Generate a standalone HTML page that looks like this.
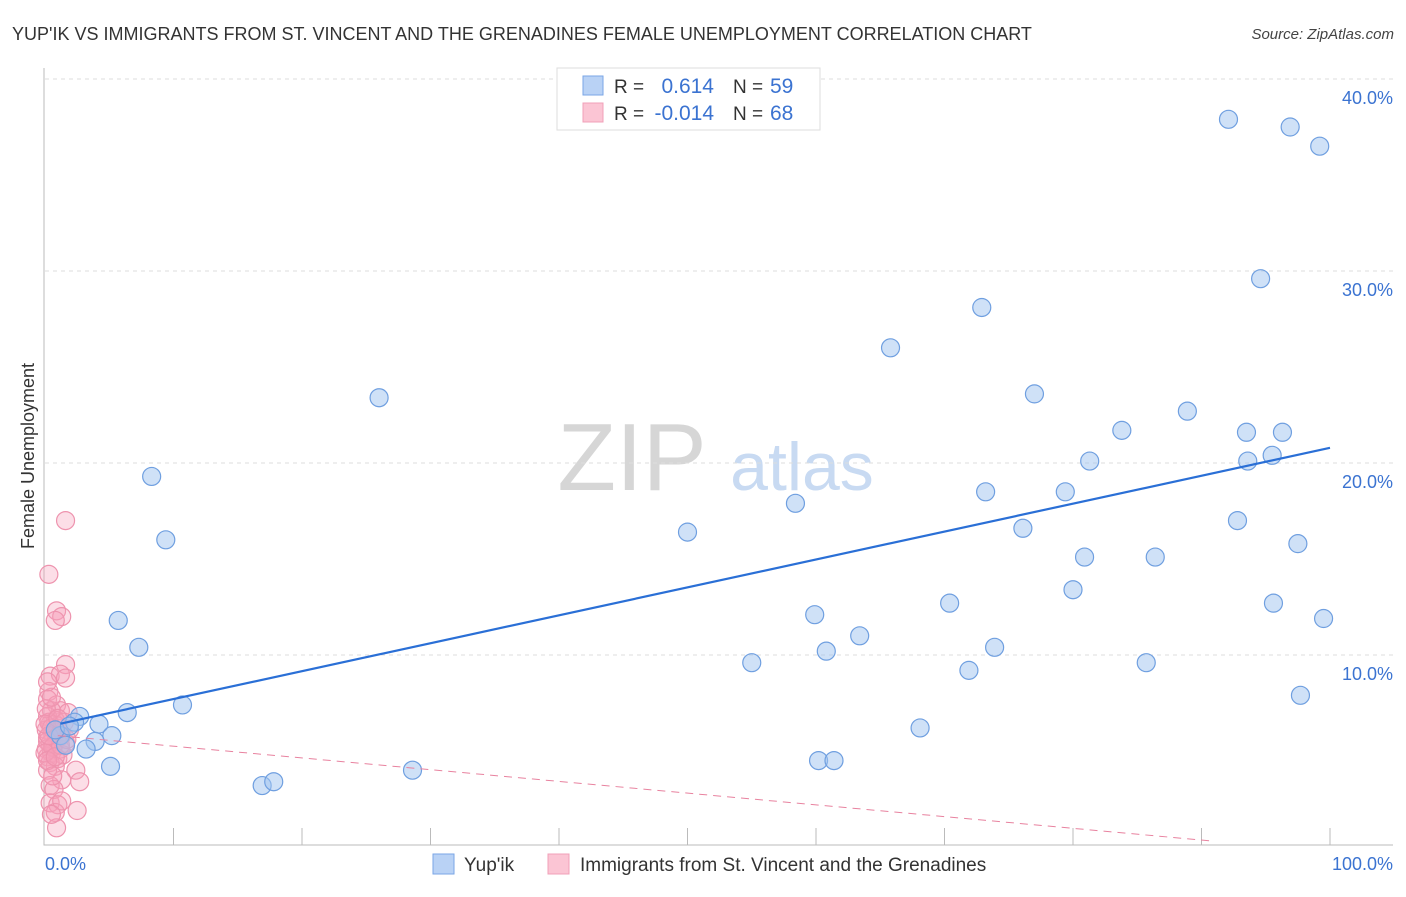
<!DOCTYPE html>
<html><head><meta charset="utf-8"><style>
body{margin:0;background:#fff;font-family:"Liberation Sans",sans-serif;}
svg text{font-family:"Liberation Sans",sans-serif;}
</style></head><body>
<svg id="chart" width="1406" height="892" xmlns="http://www.w3.org/2000/svg">
<text x="12" y="40" font-size="18" fill="#333">YUP'IK VS IMMIGRANTS FROM ST. VINCENT AND THE GRENADINES FEMALE UNEMPLOYMENT CORRELATION CHART</text>
<text x="1394" y="39" font-size="15" fill="#444" font-style="italic" text-anchor="end">Source: ZipAtlas.com</text>
<g>
<text x="632" y="490" font-size="96" fill="#d6d6d6" font-family="Liberation Serif, serif" text-anchor="middle">ZIP</text>
<text x="802" y="490" font-size="68" fill="#c8daf2" text-anchor="middle">atlas</text>
</g>
<g id="grid"></g>
<g id="axes"></g>
<g id="points"></g>
<g id="trends"></g>
<text transform="translate(34,456) rotate(-90)" font-size="18" fill="#333" text-anchor="middle">Female Unemployment</text>
<g>
<rect x="557" y="68" width="263" height="62" fill="#fff" stroke="#ddd"/>
<rect x="583" y="76" width="20" height="19" fill="#b9d2f5" stroke="#7aa6e6"/>
<rect x="583" y="103" width="20" height="19" fill="#fbc5d4" stroke="#f0a0b8"/>
<text x="614" y="93" font-size="19" fill="#333">R =</text>
<text x="714" y="93" font-size="21" fill="#3b73d1" text-anchor="end">0.614</text>
<text x="733" y="93" font-size="19" fill="#333">N =</text>
<text x="770" y="93" font-size="21" fill="#3b73d1">59</text>
<text x="614" y="120" font-size="19" fill="#333">R =</text>
<text x="714" y="120" font-size="21" fill="#3b73d1" text-anchor="end">-0.014</text>
<text x="733" y="120" font-size="19" fill="#333">N =</text>
<text x="770" y="120" font-size="21" fill="#3b73d1">68</text>
</g>
<g>
<rect x="433" y="854" width="21" height="20" fill="#b9d2f5" stroke="#7aa6e6"/>
<text x="464" y="871" font-size="19" fill="#333">Yup'ik</text>
<rect x="548" y="854" width="21" height="20" fill="#fbc5d4" stroke="#f0a0b8"/>
<text x="580" y="871" font-size="19" fill="#333">Immigrants from St. Vincent and the Grenadines</text>
</g>
</svg>
<script>
const yTicks=[10,20,30,40];
const yTickLabels=["10.0%","20.0%","30.0%","40.0%"];
const xTickLabels=["0.0%","100.0%"];
const blueX=[92.1,96.9,99.2,94.6,72.9,65.8,26.0,77.0,88.9,83.8,93.5,96.3,81.3,93.6,95.5,8.3,73.2,79.4,58.4,50.0,76.1,92.8,9.4,97.5,80.9,86.4,80.0,70.4,95.6,5.7,59.9,99.5,63.4,7.3,60.8,73.9,55.0,85.7,71.9,10.7,6.4,97.7,2.7,2.3,4.2,68.1,5.2,3.9,3.2,5.1,28.6,60.2,61.4,16.9,17.8,1.2,1.6,0.8,1.9];
const blueY=[37.9,37.5,36.5,29.6,28.1,26.0,23.4,23.6,22.7,21.7,21.6,21.6,20.1,20.1,20.4,19.3,18.5,18.5,17.9,16.4,16.6,17.0,16.0,15.8,15.1,15.1,13.4,12.7,12.7,11.8,12.1,11.9,11.0,10.4,10.2,10.4,9.6,9.6,9.2,7.4,7.0,7.9,6.8,6.5,6.4,6.2,5.8,5.5,5.1,4.2,4.0,4.5,4.5,3.2,3.4,5.8,5.3,6.1,6.3];
const pinkX=[1.6,0.3,0.9,1.3,0.8,1.6,0.4,1.2,1.6,0.3,0.2,0.9,1.2,0.5,1.8,0.2,0.8,0.4,1.0,0.1,0.6,1.3,0.2,0.9,0.4,1.6,0.7,0.1,1.2,0.5,0.2,1.0,1.4,0.4,0.8,0.2,2.4,1.3,2.7,0.4,0.7,0.4,1.0,0.8,2.5,0.9,0.3,0.5,0.9,1.1,0.2,0.6,0.0,1.2,0.3,0.1,1.5,1.9,0.2,0.6,0.0,1.0,0.5,0.2,1.7,0.8,1.3,0.5];
const pinkY=[17.0,14.2,12.3,12.0,11.8,9.5,8.9,9.0,8.8,8.1,7.7,7.4,7.1,7.1,7.0,6.8,6.6,6.4,6.3,6.1,5.9,5.8,5.7,5.6,5.4,5.4,5.3,5.1,5.1,4.9,4.7,4.6,4.8,4.4,4.2,4.0,4.0,3.5,3.4,3.2,3.0,2.3,2.2,1.8,1.9,1.0,6.5,6.2,6.0,5.8,5.5,5.2,4.9,5.3,5.8,7.2,6.5,6.1,4.5,3.7,6.4,6.7,7.8,8.6,5.6,4.7,2.4,1.7];
const pinkTrend=[1.0,5.8,91.0,0.3];
const NS="http://www.w3.org/2000/svg";
const X0=45,X1=1330,Y0=847,PY=19.2;
const sx=v=>X0+(X1-X0)*v/100;
const sy=v=>Y0-v*PY;
function mk(tag,attrs,parent){const e=document.createElementNS(NS,tag);for(const k in attrs)e.setAttribute(k,attrs[k]);parent.appendChild(e);return e;}
const grid=document.getElementById('grid'),axes=document.getElementById('axes');
yTicks.forEach((t,i)=>{
  const l=mk('line',{x1:45,x2:1393,y1:sy(t),y2:sy(t),stroke:'#ddd','stroke-dasharray':'4,4'},grid);
  
  
  const tx=mk('text',{x:1393,y:sy(t)+25,'font-size':18,fill:'#3b73d1','text-anchor':'end'},axes);
  tx.textContent=yTickLabels[i];
  
  
});
const ax=mk('path',{d:'M44 68 V845 H1393',fill:'none',stroke:'#bbb'},axes);


for(let i=1;i<=10;i++){
  const tk=mk('line',{x1:sx(i*10),x2:sx(i*10),y1:828,y2:845,stroke:'#bbb'},axes);
  
  
}
const xl=mk('text',{x:45,y:870,'font-size':18,fill:'#3b73d1'},axes);xl.textContent=xTickLabels[0];


const xr=mk('text',{x:1393,y:870,'font-size':18,fill:'#3b73d1','text-anchor':'end'},axes);xr.textContent=xTickLabels[1];


const pts=document.getElementById('points');
pinkX.forEach((v,i)=>{
  const c=mk('circle',{cx:sx(v),cy:sy(pinkY[i]),r:9,fill:'rgba(245,160,185,0.35)',stroke:'#ee93ae','stroke-width':1.2},pts);
  
  
});
blueX.forEach((v,i)=>{
  const c=mk('circle',{cx:sx(v),cy:sy(blueY[i]),r:9,fill:'rgba(160,196,240,0.5)',stroke:'#6f9fe0','stroke-width':1.2},pts);
  
  
});
const n=blueX.length,mx=blueX.reduce((a,b)=>a+b)/n,my=blueY.reduce((a,b)=>a+b)/n;
let sxy=0,sxx=0;blueX.forEach((x,i)=>{sxy+=(x-mx)*(blueY[i]-my);sxx+=(x-mx)*(x-mx);});
const m=sxy/sxx,b=my-m*mx;
const tr=document.getElementById('trends');
const pl=mk('line',{x1:sx(pinkTrend[0]),y1:sy(pinkTrend[1]),x2:sx(pinkTrend[2]),y2:sy(pinkTrend[3]),stroke:'#e8829f','stroke-width':1,'stroke-dasharray':'8,6'},tr);


const bx0=1.2,bx1=100;
const bl=mk('line',{x1:sx(bx0),y1:sy(m*bx0+b),x2:sx(bx1),y2:sy(m*bx1+b),stroke:'#2a6fd6','stroke-width':2.2},tr);


</script>
</body></html>
